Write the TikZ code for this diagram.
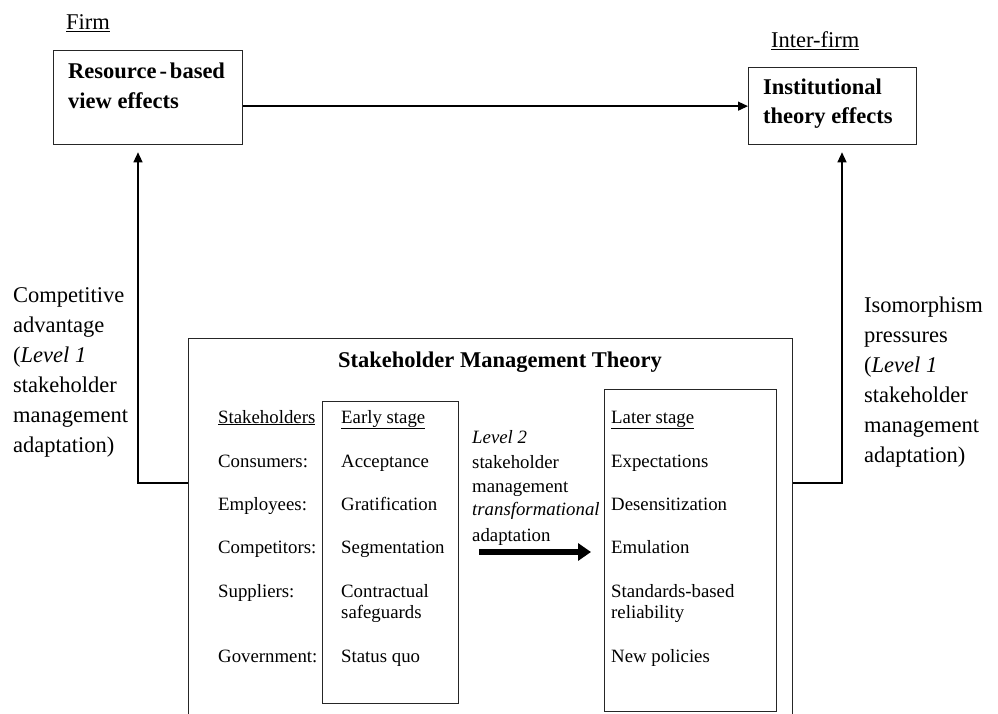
\documentclass[tikz,border=0pt]{standalone}
\usepackage{fontspec}
\setmainfont{Liberation Serif}
\usetikzlibrary{arrows.meta}
\begin{document}
\begin{tikzpicture}[x=1pt,y=-1pt,
  box/.style={draw=black!85, line width=1.3pt, rectangle, inner sep=0pt, anchor=north west},
  lbl/.style={anchor=base west, inner sep=0pt, font=\fontsize{22.5}{30}\selectfont},
  sm/.style={anchor=base west, inner sep=0pt, font=\fontsize{18.8}{21}\selectfont},
  bld/.style={anchor=base west, inner sep=0pt, font=\fontsize{22.5}{30}\selectfont\bfseries},
  arr/.style={line width=1.3pt, -{Triangle[length=10pt,width=9pt]}},
  fat/.style={line width=6pt, -{Triangle[length=13pt,width=17pt]}}
]
\clip (0,0) rectangle (998,714);
\fill[white] (0,0) rectangle (998,714);

% boxes
\node[box, minimum width=189pt, minimum height=94pt] (rbv) at (53,50) {};
\node[box, minimum width=168pt, minimum height=77pt] (inst) at (748,67) {};
\node[box, minimum width=604pt, minimum height=500pt] (smt) at (188,338) {};
\node[box, minimum width=136pt, minimum height=302pt] (early) at (322,401) {};
\node[box, minimum width=172pt, minimum height=322pt] (later) at (604,389) {};

% top labels
\node[lbl] (firm) at (66,30) {\underline{Firm}};
\node[lbl] (interfirm) at (771,48) {\underline{Inter-firm}};
\node[bld] (rbv1) at (68,79) {Resource\kern3pt-\kern3pt based};
\node[bld] (rbv2) at (68,109) {view effects};
\node[bld] (inst1) at (763,95) {Institutional};
\node[bld] (inst2) at (763,124) {theory effects};

% side labels
\node[lbl] (ca1) at (13,302) {Competitive};
\node[lbl] (ca2) at (13,332) {advantage};
\node[lbl] (ca3) at (13,362) {(\textit{Level 1}};
\node[lbl] (ca4) at (13,392) {stakeholder};
\node[lbl] (ca5) at (13,422) {management};
\node[lbl] (ca6) at (13,452) {adaptation)};
\node[lbl] (ip1) at (864,312) {Isomorphism};
\node[lbl] (ip2) at (864,342) {pressures};
\node[lbl] (ip3) at (864,372) {(\textit{Level 1}};
\node[lbl] (ip4) at (864,402) {stakeholder};
\node[lbl] (ip5) at (864,432) {management};
\node[lbl] (ip6) at (864,462) {adaptation)};

% title
\node[bld, anchor=base] (title) at (500,367) {Stakeholder Management Theory};

% stakeholders column
\node[sm] (s0) at (218,423) {\underline{Stakeholders}};
\node[sm] (s1) at (218,467) {Consumers:};
\node[sm] (s2) at (218,510) {Employees:};
\node[sm] (s3) at (218,553) {Competitors:};
\node[sm] (s4) at (218,597) {Suppliers:};
\node[sm] (s5) at (218,662) {Government:};

% early stage column
\node[sm] (e0) at (341,423) {\underline{Early stage}};
\node[sm] (e1) at (341,467) {Acceptance};
\node[sm] (e2) at (341,510) {Gratification};
\node[sm] (e3) at (341,553) {Segmentation};
\node[sm] (e4) at (341,597) {Contractual};
\node[sm] (e4b) at (341,618) {safeguards};
\node[sm] (e5) at (341,662) {Status quo};

% later stage column
\node[sm] (t0) at (611,423) {\underline{Later stage}};
\node[sm] (t1) at (611,467) {Expectations};
\node[sm] (t2) at (611,510) {Desensitization};
\node[sm] (t3) at (611,553) {Emulation};
\node[sm] (t4) at (611,597) {Standards-based};
\node[sm] (t4b) at (611,618) {reliability};
\node[sm] (t5) at (611,662) {New policies};

% level 2 text
\node[sm] (m1) at (472,443) {\textit{Level 2}};
\node[sm] (m2) at (472,468) {stakeholder};
\node[sm] (m3) at (472,492) {management};
\node[sm] (m4) at (472,515) {\textit{transformational}};
\node[sm] (m5) at (472,541) {adaptation};

% connectors
\draw[arr] (rbv.east |- inst.west) -- (inst.west);
\coordinate (lj) at (138,483);
\coordinate (rj) at (842,483);
\draw[arr, shorten >=7pt] (smt.west |- lj) -- (lj) -- (lj |- rbv.south);
\draw[arr, shorten >=7pt] (smt.east |- rj) -- (rj) -- (rj |- inst.south);
\coordinate (ta) at (479,552);
\coordinate (tb) at (591,552);
\draw[fat] (ta) -- (tb);
\end{tikzpicture}
\end{document}
